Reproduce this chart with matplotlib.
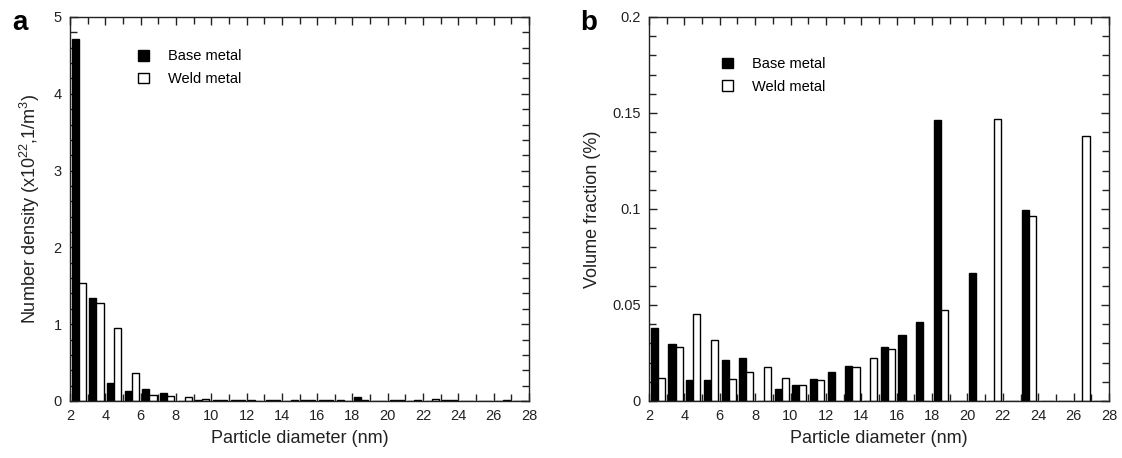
import numpy as np
import matplotlib
matplotlib.use('Agg')
import matplotlib.pyplot as plt
from matplotlib.ticker import MultipleLocator

plt.rcParams['font.family'] = ['Liberation Sans', 'DejaVu Sans']
plt.rcParams['mathtext.fontset'] = 'custom'
plt.rcParams['mathtext.rm'] = 'Liberation Sans'
plt.rcParams['mathtext.it'] = 'Liberation Sans:italic'

# bin start (nm); bars sit at bin+0.1 (base) and bin+0.5 (weld)
bins = list(range(2, 28))

dens_base = [4.71, 1.34, 0.23, 0.13, 0.16, 0.10, 0.0, 0.01, 0.01, 0.01, 0.01, 0.01, 0.0,
             0.01, 0.01, 0.01, 0.05, 0.0, 0.01, 0.0, 0.0, 0.01, 0.0, 0.0, 0.0, 0.0]
dens_weld = [1.53, 1.28, 0.95, 0.36, 0.08, 0.065, 0.05, 0.03, 0.01, 0.01, 0.0, 0.01, 0.01,
             0.01, 0.01, 0.0, 0.01, 0.0, 0.01, 0.01, 0.03, 0.01, 0.0, 0.0, 0.01, 0.0]

vol_base = [0.0382, 0.0299, 0.0111, 0.0111, 0.0212, 0.0224, 0.0, 0.0063, 0.0082, 0.0116,
            0.0153, 0.0182, 0.0, 0.0283, 0.0343, 0.0412, 0.1466, 0.0, 0.0665, 0.0, 0.0,
            0.0997, 0.0, 0.0, 0.0, 0.0]
vol_weld = [0.0122, 0.0281, 0.0452, 0.0316, 0.0116, 0.0151, 0.0177, 0.0122, 0.0082, 0.0111,
            0.0, 0.0177, 0.0222, 0.0270, 0.0, 0.0, 0.0474, 0.0, 0.0, 0.1471, 0.0,
            0.0964, 0.0, 0.0, 0.1380, 0.0]

fig = plt.figure(figsize=(11.22, 4.58), dpi=100)
ax1 = fig.add_axes([70 / 1122, 1 - 401 / 458, 459 / 1122, 384 / 458])
ax2 = fig.add_axes([649 / 1122, 1 - 401 / 458, 460 / 1122, 384 / 458])

x = np.array(bins, dtype=float)
w = 0.4


def draw(ax, base, weld, ymax, ymaj, ymin, ylabel):
    ax.bar(x + 0.1, base, width=w, align='edge', color='black', edgecolor='black',
           linewidth=1, label='Base metal', zorder=2)
    ax.bar(x + 0.5, weld, width=w, align='edge', color='white', edgecolor='black',
           linewidth=1, label='Weld metal', zorder=2)
    ax.set_xlim(2, 28)
    ax.set_ylim(0, ymax)
    ax.xaxis.set_major_locator(MultipleLocator(2))
    ax.xaxis.set_minor_locator(MultipleLocator(1))
    ax.yaxis.set_major_locator(MultipleLocator(ymaj))
    ax.yaxis.set_minor_locator(MultipleLocator(ymin))
    ax.yaxis.set_major_formatter(lambda v, p: f'{v:g}')
    ax.tick_params(which='both', direction='in', top=True, right=True,
                   color='#222222', labelcolor='#222222', labelsize=10.5, width=1)
    ax.tick_params(which='major', length=6, pad=6)
    ax.tick_params(which='minor', length=5)
    for s in ax.spines.values():
        s.set_color('#222222')
        s.set_linewidth(1)
    ax.set_xlabel('Particle diameter (nm)', fontsize=13, color='#222222', labelpad=5)
    ax.set_ylabel(ylabel, fontsize=13, color='#222222', labelpad=8)


draw(ax1, dens_base, dens_weld, 5, 1, 0.2, r'Number density (x10$^{22}$,1/m$^3$)')
draw(ax2, vol_base, vol_weld, 0.2, 0.05, 0.01, 'Volume fraction (%)')

ax1.legend(loc='upper left', bbox_to_anchor=(0.12, 0.95), frameon=False, fontsize=10.5,
           handlelength=0.75, handleheight=0.75, handletextpad=1.3, labelspacing=0.6)
ax2.legend(loc='upper left', bbox_to_anchor=(0.13, 0.93), frameon=False, fontsize=10.5,
           handlelength=0.75, handleheight=0.75, handletextpad=1.3, labelspacing=0.6)

fig.text(12 / 1122, 1 - 30 / 458, 'a', fontsize=20, fontweight='bold')
fig.text(580 / 1122, 1 - 30 / 458, 'b', fontsize=20, fontweight='bold')

fig.savefig('out.png', dpi=100)
